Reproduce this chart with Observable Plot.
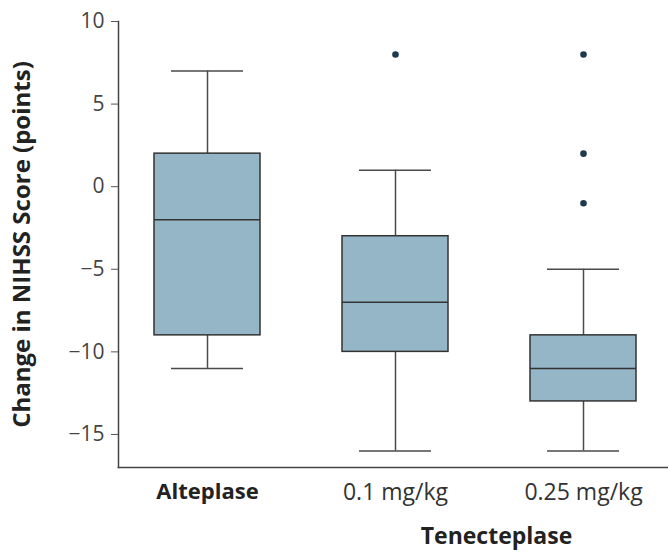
<!DOCTYPE html>
<html><head><meta charset="utf-8">
<script src="https://cdn.jsdelivr.net/npm/d3@7"></script>
<script src="https://cdn.jsdelivr.net/npm/@observablehq/plot@0.6"></script>
<style>body{margin:0;background:#fff;} svg{display:block;}</style>
</head><body><div id="chart"></div>
<script>
const groups = ["Alteplase", "0.1 mg/kg", "0.25 mg/kg"];
const whiskerLow = [-11, -16, -16];
const q1 = [-9, -10, -13];
const median = [-2, -7, -11];
const q3 = [2, -3, -9];
const whiskerHigh = [7, 1, -5];
const outlierGroup = ["0.1 mg/kg", "0.25 mg/kg", "0.25 mg/kg", "0.25 mg/kg"];
const outlierValue = [8, 8, 2, -1];
const yTicks = [10, 5, 0, -5, -10, -15];

const stats = groups.map((g, i) => ({g, lo: whiskerLow[i], q1: q1[i], med: median[i], q3: q3[i], hi: whiskerHigh[i]}));
const outliers = outlierGroup.map((g, i) => ({g, v: outlierValue[i]}));

const font = "'Open Sans', 'Noto Sans', sans-serif";
const chart = Plot.plot({
  width: 668, height: 552,
  marginLeft: 118, marginRight: 0, marginTop: 21, marginBottom: 85,
  style: {fontFamily: font, background: "#fff"},
  x: {domain: groups, paddingInner: 0.434, paddingOuter: 0.176, align: 0.54, axis: null},
  y: {domain: [-17, 10], axis: null},
  marks: [
    Plot.ruleX(stats, {x: "g", y1: "lo", y2: "q1", stroke: "#4a4a4a", strokeWidth: 1.5}),
    Plot.ruleX(stats, {x: "g", y1: "q3", y2: "hi", stroke: "#4a4a4a", strokeWidth: 1.5}),
    Plot.tickY(stats, {x: "g", y: "lo", stroke: "#4a4a4a", strokeWidth: 1.5, insetLeft: 17, insetRight: 17}),
    Plot.tickY(stats, {x: "g", y: "hi", stroke: "#4a4a4a", strokeWidth: 1.5, insetLeft: 17, insetRight: 17}),
    Plot.barY(stats, {x: "g", y1: "q1", y2: "q3", fill: "#94b6c7", stroke: "#333", strokeWidth: 1.5}),
    Plot.tickY(stats, {x: "g", y: "med", stroke: "#333", strokeWidth: 1.5}),
    Plot.dot(outliers, {x: "g", y: "v", r: 3.3, fill: "#1d3a4f", stroke: null}),
    Plot.axisY(yTicks, {tickSize: 7, tickPadding: 7, fontSize: 21, color: "#444", stroke: "#555", label: null, tickFormat: d => d < 0 ? "\u2212" + Math.abs(d) : d}),
    Plot.axisX(["Alteplase"], {tickSize: 0, tickPadding: 16, fontSize: 22, fontWeight: "bold", color: "#222", label: null}),
    Plot.axisX(["0.1 mg/kg", "0.25 mg/kg"], {tickSize: 0, tickPadding: 16, fontSize: 23, color: "#333", label: null}),
    Plot.frame({anchor: "left", stroke: "#444", strokeWidth: 1.5}),
    Plot.frame({anchor: "bottom", stroke: "#444", strokeWidth: 1.5}),
    Plot.text(["Tenecteplase"], {x: () => "0.25 mg/kg", frameAnchor: "bottom", dy: 76, dx: -87, fontSize: 23, fontWeight: "bold", fill: "#222"}),
    Plot.text(["Change in NIHSS Score (points)"], {frameAnchor: "left", textAnchor: "middle", rotate: -90, dx: -96, fontSize: 24, fontWeight: "bold", fill: "#222"})
  ]
});
document.getElementById("chart").append(chart);
</script></body></html>
